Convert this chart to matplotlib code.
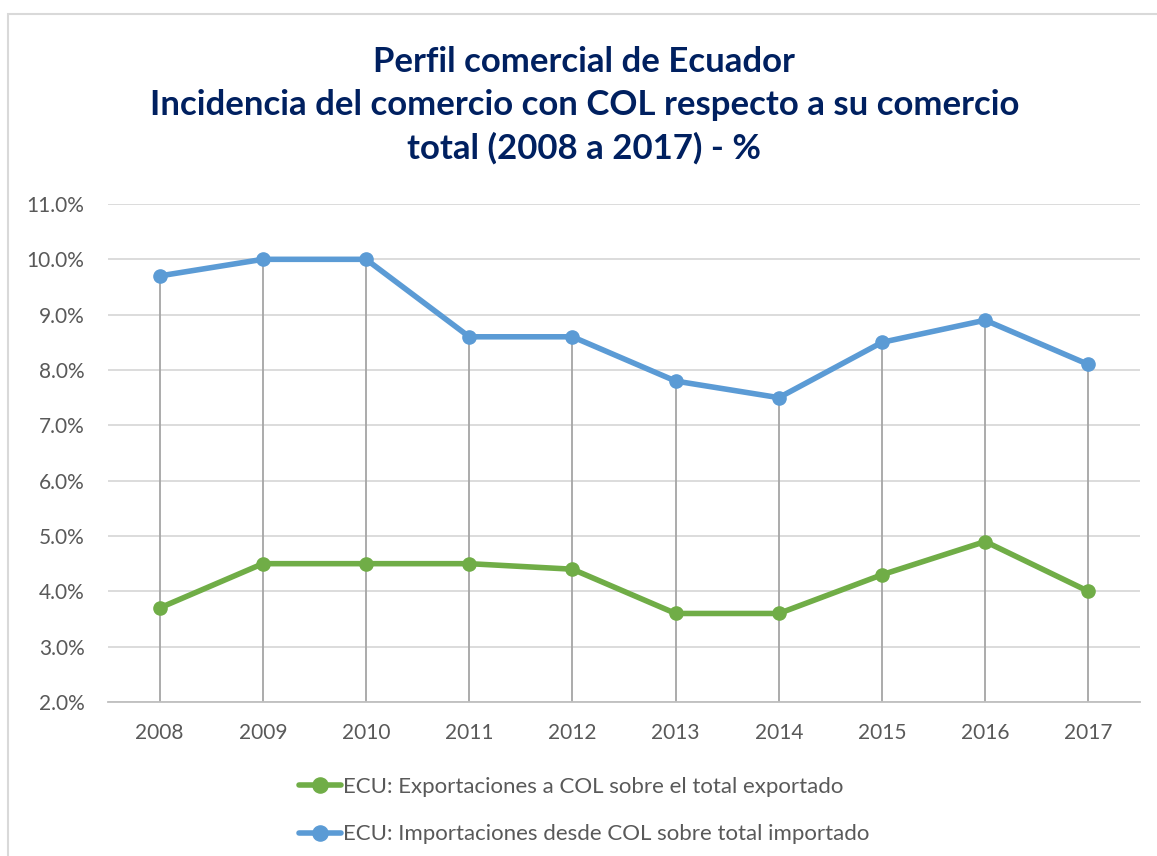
"""
plot.py — Ecuador trade profile: share of trade with Colombia (2008-2017).
"""

import matplotlib
matplotlib.use("Agg")
import matplotlib.pyplot as plt
from matplotlib.patches import Rectangle
from matplotlib.ticker import FuncFormatter, MultipleLocator

years = ["2008", "2009", "2010", "2011", "2012", "2013", "2014", "2015", "2016", "2017"]
exports_share = [3.7, 4.5, 4.5, 4.5, 4.4, 3.6, 3.6, 4.3, 4.9, 4.0]
imports_share = [9.7, 10.0, 10.0, 8.6, 8.6, 7.8, 7.5, 8.5, 8.9, 8.1]

label_exp = "ECU: Exportaciones a COL sobre el total exportado"
label_imp = "ECU: Importaciones desde COL sobre total importado"
title = ("Perfil comercial de Ecuador\n"
         "Incidencia del comercio con COL respecto a su comercio\n"
         "total (2008 a 2017) - %")

plt.rcParams["font.family"] = ["Lato", "DejaVu Sans"]

fig = plt.figure(figsize=(11.57, 8.56), dpi=100)
ax = fig.add_axes([0.0934, 0.1799, 0.8919, 0.5818])

# chart border (Excel style, clipped on the right/bottom)
fig.patches.append(Rectangle((8 / 1157, -0.1), 1.2, 1 - 14 / 856 + 0.1,
                             transform=fig.transFigure, fill=False,
                             edgecolor="#D9D9D9", lw=1.5))

x = list(range(len(years)))
top = [max(a, b) for a, b in zip(exports_share, imports_share)]

# drop lines from the upper series down to the axis
ax.vlines(x, 2.0, top, color="#A5A5A5", lw=1.3, zorder=2)

ax.plot(x, exports_share, color="#70AD47", lw=4, marker="o", ms=9.5,
        label=label_exp, zorder=3, solid_capstyle="round")
ax.plot(x, imports_share, color="#5B9BD5", lw=4, marker="o", ms=9.5,
        label=label_imp, zorder=3, solid_capstyle="round")

ax.set_xlim(-0.5, len(years) - 0.5)
ax.set_ylim(2.0, 11.0)
ax.yaxis.set_major_locator(MultipleLocator(1.0))
ax.yaxis.set_major_formatter(FuncFormatter(lambda v, _: f"{v:.1f}%"))
ax.set_xticks(x)
ax.set_xticklabels(years)

ax.grid(True, axis="y", color="#D9D9D9", lw=1.3, zorder=0)
for side in ["top", "right", "left"]:
    ax.spines[side].set_visible(False)
ax.spines["bottom"].set_color("#BFBFBF")
ax.spines["bottom"].set_linewidth(1.3)
ax.tick_params(axis="both", length=0, labelsize=15, colors="#595959")
ax.tick_params(axis="x", pad=15)
ax.tick_params(axis="y", pad=17)
ax.set_axisbelow(True)

fig.text(0.505, 0.946, title, ha="center", va="top", fontsize=25,
         fontweight="bold", color="#002060", linespacing=1.42)

fig.legend(loc="upper center", bbox_to_anchor=(0.505, 0.103), frameon=False,
           fontsize=16, labelcolor="#595959", handlelength=1.9,
           handletextpad=0.1, labelspacing=1.25, borderaxespad=0,
           markerscale=1.15)

fig.savefig("out.png", dpi=100)
